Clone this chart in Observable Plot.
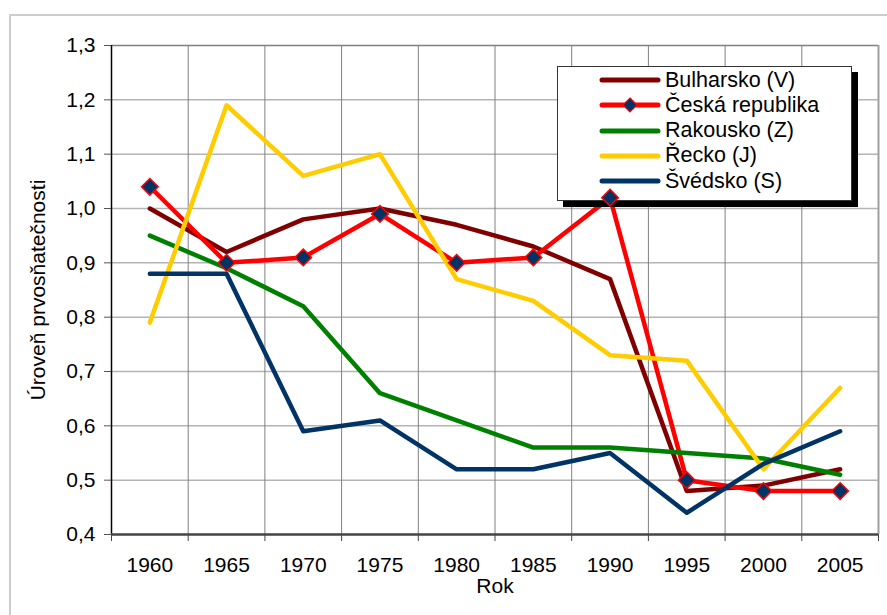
<!DOCTYPE html>
<html>
<head>
<meta charset="utf-8">
<script src="https://cdn.jsdelivr.net/npm/d3@7"></script>
<script src="https://cdn.jsdelivr.net/npm/@observablehq/plot@0.6"></script>
<style>
  html, body { margin: 0; padding: 0; background: #fff; overflow: hidden; }
  #wrap { position: relative; width: 887px; height: 615px; overflow: hidden; font-family: "Liberation Sans", Arial, sans-serif; }
  #frame { position: absolute; left: 9px; top: 14px; width: 900px; height: 700px; border: 2px solid #cdcdcd; box-sizing: border-box; }
  #chart, #markers { position: absolute; left: 0; top: 0; }
  #markers { pointer-events: none; }
  #legend { position: absolute; left: 557px; top: 66px; width: 295px; height: 135px; box-sizing: border-box;
            border: 1px solid #333; background: #fff; box-shadow: 6px 6px 0 0 #000; }
  .item { position: absolute; left: 0; height: 26px; display: flex; align-items: center; font-size: 21.5px; color: #000; white-space: nowrap; }
  .item svg { margin-left: 41px; margin-right: 4px; }
</style>
</head>
<body>
<div id="wrap">
  <div id="frame"></div>
  <div id="chart"></div>
  <div id="legend"></div>
  <div id="markers"></div>
</div>
<script>
const years = [1960, 1965, 1970, 1975, 1980, 1985, 1990, 1995, 2000, 2005];
const seriesNames = ["Bulharsko (V)", "Česká republika", "Rakousko (Z)", "Řecko (J)", "Švédsko (S)"];
const seriesColors = ["#800000", "#ff0000", "#008000", "#ffcc00", "#003366"];
const bulharsko = [1.00, 0.92, 0.98, 1.00, 0.97, 0.93, 0.87, 0.48, 0.49, 0.52];
const ceska     = [1.04, 0.90, 0.91, 0.99, 0.90, 0.91, 1.02, 0.50, 0.48, 0.48];
const rakousko  = [0.95, 0.89, 0.82, 0.66, 0.61, 0.56, 0.56, 0.55, 0.54, 0.51];
const recko     = [0.79, 1.19, 1.06, 1.10, 0.87, 0.83, 0.73, 0.72, 0.52, 0.67];
const svedsko   = [0.88, 0.88, 0.59, 0.61, 0.52, 0.52, 0.55, 0.44, 0.53, 0.59];
const yTicks = [0.4, 0.5, 0.6, 0.7, 0.8, 0.9, 1.0, 1.1, 1.2, 1.3];
const xLabel = "Rok";
const yLabel = "Úroveň prvosňatečnosti";

const allValues = [bulharsko, ceska, rakousko, recko, svedsko];
const rows = [];
seriesNames.forEach((s, i) => years.forEach((yr, j) => rows.push({series: s, year: yr, value: allValues[i][j]})));
const czRows = rows.filter(d => d.series === "Česká republika");

// band boundaries (categories centred between them)
const half = (years[1] - years[0]) / 2;
const bounds = [...years.map(y => y - half), years[years.length - 1] + half];
const innerBounds = bounds.slice(1, -1);
const fmt = d => d.toFixed(1).replace(".", ",");

const base = {
  width: 887,
  height: 615,
  marginLeft: 111,
  marginTop: 45,
  marginRight: 9,
  marginBottom: 81,
  style: {fontFamily: "'Liberation Sans', Arial, sans-serif", fontSize: "21px", background: "transparent", overflow: "visible"},
  x: {domain: [bounds[0], bounds[bounds.length - 1]], axis: null},
  y: {domain: [yTicks[0], yTicks[yTicks.length - 1]], axis: null},
  color: {domain: seriesNames, range: seriesColors}
};

const chart = Plot.plot({
  ...base,
  marks: [
    Plot.ruleY(yTicks.slice(1, -1), {stroke: "#b4b4b4", strokeWidth: 1.5}),
    Plot.ruleX(innerBounds, {stroke: "#808080", strokeWidth: 1}),
    Plot.ruleY([yTicks[yTicks.length - 1]], {stroke: "#808080", strokeWidth: 1.5}),
    Plot.ruleX([bounds[bounds.length - 1]], {stroke: "#a0a0a0", strokeWidth: 2}),
    Plot.axisY(yTicks, {tickSize: 7, tickPadding: 9, tickFormat: fmt, label: null, stroke: "#555", fill: "#000"}),
    Plot.axisX(bounds, {tickSize: 7, fill: "none", label: null, stroke: "#444"}),
    Plot.axisX(years, {tickSize: 0, tickPadding: 23, tickFormat: d => String(d), label: null, fill: "#000"}),
    Plot.ruleX([bounds[0]], {stroke: "#000", strokeWidth: 1.5}),
    Plot.ruleY([yTicks[0]], {stroke: "#444", strokeWidth: 2.5}),
    Plot.line(rows, {x: "year", y: "value", z: "series", stroke: "series", strokeWidth: 4.5, strokeLinejoin: "round", strokeLinecap: "round"}),
    Plot.text([xLabel], {frameAnchor: "bottom", dy: 52, lineAnchor: "middle", textAnchor: "middle", fill: "#000"}),
    Plot.text([yLabel], {frameAnchor: "left", dx: -73, rotate: -90, lineAnchor: "middle", textAnchor: "middle", fill: "#000"})
  ]
});
document.getElementById("chart").appendChild(chart);

// markers drawn on a second layer with the same scales (they sit above the legend box, as in the original)
const markers = Plot.plot({
  ...base,
  marks: [
    Plot.dot(czRows, {x: "year", y: "value", symbol: "diamond2", r: 7.5, fill: "#003366", stroke: "#ff0000", strokeWidth: 1.5})
  ]
});
document.getElementById("markers").appendChild(markers);

// legend
const legend = document.getElementById("legend");
seriesNames.forEach((s, i) => {
  const item = document.createElement("div");
  item.className = "item";
  item.style.top = (13.2 + i * 25.2 - 13) + "px";
  const color = seriesColors[i];
  let sw = `<svg width="62" height="18" viewBox="0 0 62 18"><line x1="3" y1="9" x2="59" y2="9" stroke="${color}" stroke-width="5" stroke-linecap="round"/>`;
  if (s === "Česká republika") sw += `<path d="M31,2 L38,9 L31,16 L24,9 Z" fill="#003366" stroke="#ff0000" stroke-width="1.2"/>`;
  sw += `</svg>`;
  item.innerHTML = sw + `<span>${s}</span>`;
  legend.appendChild(item);
});
</script>
</body>
</html>
